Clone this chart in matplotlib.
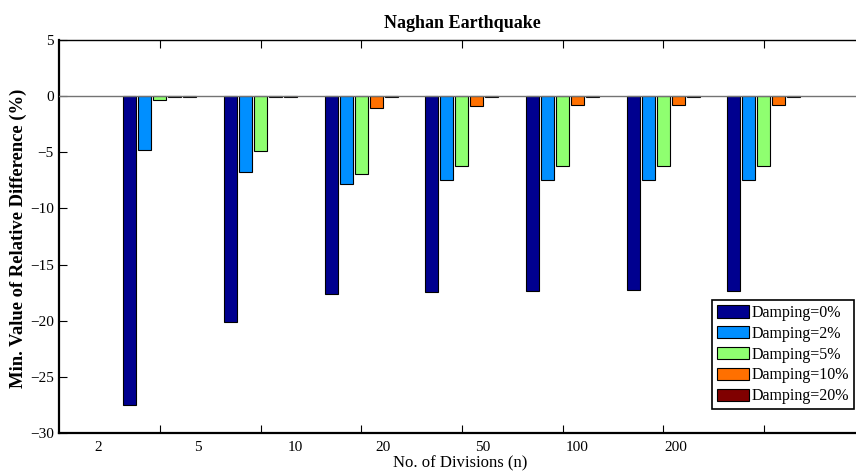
import numpy as np
import matplotlib
matplotlib.use("Agg")
import matplotlib.pyplot as plt

plt.rcParams["font.family"] = ["Liberation Serif", "DejaVu Serif"]

divisions = ["2", "5", "10", "20", "50", "100", "200"]
series_names = ["Damping=0%", "Damping=2%", "Damping=5%", "Damping=10%", "Damping=20%"]

damp_0 = [-27.55, -20.1, -17.63, -17.48, -17.36, -17.3, -17.33]
damp_2 = [-4.8, -6.75, -7.85, -7.5, -7.45, -7.45, -7.45]
damp_5 = [-0.38, -4.85, -6.9, -6.25, -6.2, -6.2, -6.2]
damp_10 = [-0.05, -0.05, -1.04, -0.85, -0.8, -0.8, -0.8]
damp_20 = [-0.04, -0.04, -0.04, -0.04, -0.04, -0.04, -0.04]

colors = ["#00008F", "#008FFF", "#8FFF70", "#FF7000", "#800000"]

# label positions (data units) as they sit in the original figure
label_pos = [0.385, 1.378, 2.34, 3.215, 4.21, 5.14, 6.125]

fig = plt.figure(figsize=(8.56, 4.72), dpi=100)
ax = fig.add_axes([59.3 / 856, 39 / 472, 805.3 / 856, 393 / 472])

x = np.arange(1, len(divisions) + 1)
step = 0.149
width = 0.129
all_series = [damp_0, damp_2, damp_5, damp_10, damp_20]
for i, (vals, name, c) in enumerate(zip(all_series, series_names, colors)):
    ax.bar(x + (i - 2) * step, vals, width=width, color=c, edgecolor="black",
           linewidth=0.8, label=name, zorder=2)

ax.axhline(0, color="0.45", linewidth=1.0, zorder=3)

ax.set_xlim(0, 8)
ax.set_ylim(-30, 5)
ax.set_yticks(np.arange(-30, 6, 5))
ax.set_xticks(x)
ax.set_xticklabels([])
ax.set_xticks(label_pos, divisions, minor=True)
ax.tick_params(axis="x", which="minor", length=0, pad=6, labelsize=11)
ax.tick_params(axis="x", which="major", direction="in", length=6, width=0.8,
               top=True, bottom=True)
ax.tick_params(axis="y", direction="in", length=6, width=0.8, labelsize=11, pad=4)

for s in ["left", "bottom"]:
    ax.spines[s].set_linewidth(1.6)
ax.spines["top"].set_linewidth(1.0)
ax.spines["right"].set_visible(False)

ax.set_title("Naghan Earthquake", fontsize=13, fontweight="bold", pad=9)
ax.set_ylabel("Min. Value of Relative Difference (%)", fontsize=13.4, fontweight="bold")
ax.yaxis.set_label_coords(-0.040, 0.495)
ax.set_xlabel("No. of Divisions (n)", fontsize=12)
ax.xaxis.set_label_coords(0.4976, -0.056)

leg = ax.legend(loc="lower right", bbox_to_anchor=(854 / 856, 1 - 409 / 472),
                bbox_transform=fig.transFigure, borderaxespad=0, fontsize=11.5,
                fancybox=False, framealpha=1, edgecolor="black",
                handlelength=2.0, handleheight=0.8, handletextpad=0.2,
                borderpad=0.3, labelspacing=0.3)
leg.get_frame().set_linewidth(1.2)

fig.savefig("out.png", dpi=100)
